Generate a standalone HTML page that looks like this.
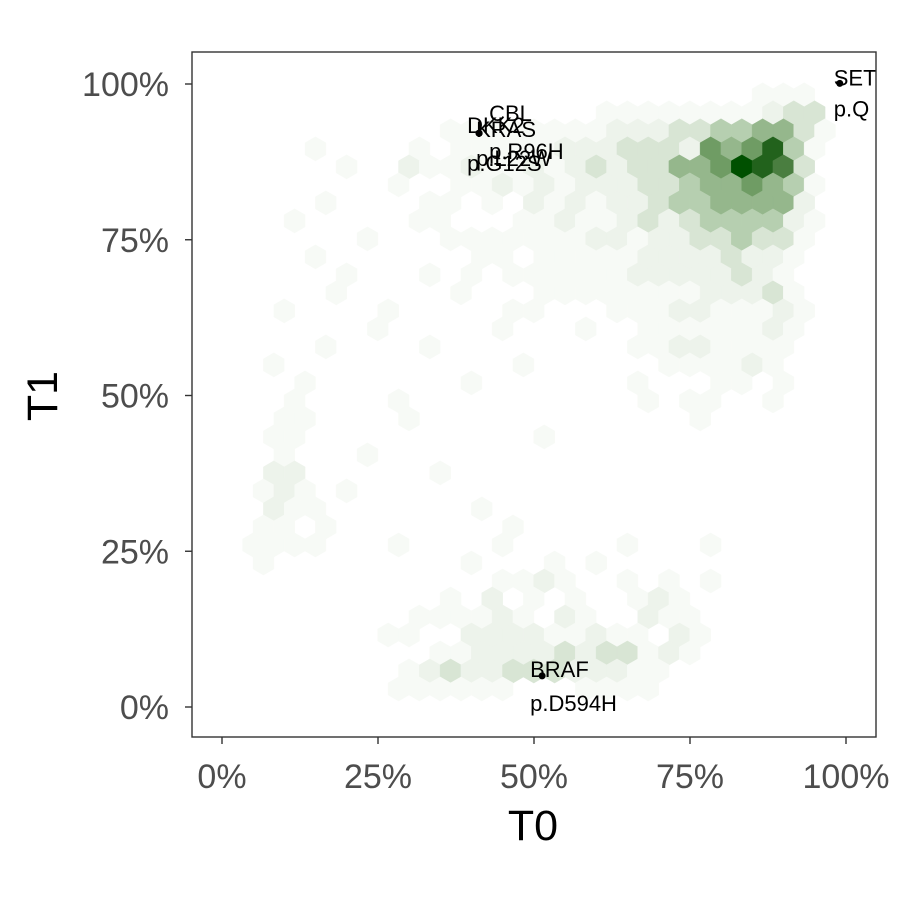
<!DOCTYPE html>
<html><head><meta charset="utf-8">
<style>
html,body{margin:0;padding:0;background:#fff;}
svg{display:block;font-family:"Liberation Sans",Arial,sans-serif;}
</style></head>
<body>
<svg id="chart" width="900" height="900" viewBox="0 0 900 900">
  <rect x="0" y="0" width="900" height="900" fill="#fff"/>
  <defs><clipPath id="panel-clip"><rect x="192" y="52" width="684" height="685"/></clipPath></defs>
  <g id="hexes" clip-path="url(#panel-clip)"></g>
  <g id="points" clip-path="url(#panel-clip)"></g>
  <rect x="192" y="52" width="684" height="685" fill="none" stroke="#333" stroke-width="1.4"/>
  <g id="xaxis"></g>
  <g id="yaxis"></g>
  <text x="533" y="840" font-size="43" text-anchor="middle" fill="#000">T0</text>
  <text x="0" y="0" font-size="43" text-anchor="middle" fill="#000" transform="translate(57,396) rotate(-90)">T1</text>
</svg>
<script>
// ---- data ----
var tickValues = [0, 25, 50, 75, 100];
var tickLabels = ["0%", "25%", "50%", "75%", "100%"];
// hex bin grid (data units, %)
var hexOriginX = 83.3, hexOriginY = 86.7, hexStepX = 3.333, hexStepY = 2.89;
var firstRowOffset = -4, firstColOffset = -24;
// hex counts (level 1-9) per row: [startCol, digits]
var hexRows = [
 [[25,"111"]],
 [[17,"11111111233"]],
 [[10,"1111111122233445531"]],
 [[3,"1"],[8,"1"],[10,"11111"],[15,"22"],[17,"23332"],[22,"656841"]],
 [[5,"1"],[8,"2"],[9,"11211212"],[17,"32335569873"]],
 [[7,"1"],[10,"112121"],[16,"222"],[19,"334556541"]],
 [[4,"1"],[9,"1101"],[14,"21212"],[19,"234455552"]],
 [[2,"1"],[8,"11"],[13,"11211"],[18,"2323444421"]],
 [[6,"1"],[10,"1111111"],[17,"22122334331"]],
 [[3,"1"],[11,"11011111"],[19,"22223221"]],
 [[5,"1"],[9,"101"],[13,"111111"],[19,"22222321"]],
 [[4,"1"],[10,"1"],[14,"11111"],[19,"11122231"]],
 [[2,"1"],[7,"1"],[13,"11"],[18,"1112211121"]],
 [[6,"1"],[12,"1"],[16,"1"],[19,"11111121"]],
 [[4,"1"],[9,"1"],[19,"11221111"]],
 [[1,"1"],[13,"1"],[20,"111121"]],
 [[3,"1"],[11,"1"],[19,"1"],[23,"11"],[26,"1"]],
 [[2,"1"],[7,"1"],[19,"1"],[21,"11"],[25,"1"]],
 [[2,"11"],[8,"1"],[22,"1"]],
 [[1,"11"],[14,"1"]],
 [[2,"1"],[6,"1"]],
 [[1,"22"],[9,"1"]],
 [[1,"121"],[5,"1"]],
 [[1,"211"],[11,"1"]],
 [[1,"11"],[4,"1"],[13,"1"]],
 [[0,"1111"],[7,"1"],[12,"1"],[18,"1"],[22,"1"]],
 [[1,"1"],[11,"1"],[15,"1"],[17,"1"]],
 [[12,"1121"],[18,"1"],[20,"1"],[22,"1"]],
 [[10,"1"],[12,"2"],[14,"1"],[16,"1"],[19,"121"]],
 [[8,"111121"],[15,"21"],[19,"211"]],
 [[7,"11"],[11,"222211211021"]],
 [[9,"1122223233121"]],
 [[8,"1232233322211"]],
 [[7,"111111"],[16,"1111"]]
];
var levelColors = ["#ffffff","#f7faf6","#edf3eb","#d8e5d4","#b6cfb0","#95b78c","#6f9c64","#4a7e40","#22621c","#005000"];
// labelled mutations
var labelGenes = ["KRAS","DKK2","CBL","SET","BRAF"];
var labelMuts = ["p.G12S","p.L22W","p.R96H","p.Q","p.D594H"];
var labelX = [41.2, 41.2, 41.2, 99.0, 51.3];
var labelY = [92.1, 92.1, 92.1, 100.1, 5.0];
var geneDx = [-3, -12, 10, -6, -12], geneDy = [4, 0, -12, 2, 1];
var mutDx = [-12, -3, 10, -6, -12], mutDy = [38, 33, 26, 33, 35];

// ---- scales ----
function sx(v){ return 222 + v * 6.24; }
function sy(v){ return 707 - v * 6.23; }
var NS = "http://www.w3.org/2000/svg";
function mk(tag, attrs, parent){
  var e = document.createElementNS(NS, tag);
  for (var k in attrs) e.setAttribute(k, attrs[k]);
  parent.appendChild(e); return e;
}
// ---- hexes ----
var hexG = document.getElementById("hexes");
var R = 12.1;
hexRows.forEach(function(row, ri){
  var j = ri + firstRowOffset;
  var odd = Math.abs(j) % 2 === 1;
  row.forEach(function(seg){
    var start = seg[0], digits = seg[1];
    for (var i = 0; i < digits.length; i++){
      var lv = +digits[i]; if (!lv) continue;
      var k = start + i + firstColOffset;
      var dxv = hexOriginX + (k + (odd ? 0.5 : 0)) * hexStepX;
      var dyv = hexOriginY - j * hexStepY;
      var cx = sx(dxv), cy = sy(dyv);
      var pts = [];
      for (var a = 0; a < 6; a++){
        var ang = Math.PI / 180 * (60 * a - 90);
        pts.push((cx + R * Math.cos(ang)).toFixed(1) + "," + (cy + R * Math.sin(ang)).toFixed(1));
      }
      var p = mk("polygon", {points: pts.join(" "), fill: levelColors[lv], stroke: levelColors[lv], "stroke-width": 0.4}, hexG);
      
      
    }
  });
});
// ---- points & labels ----
var ptG = document.getElementById("points");
labelGenes.forEach(function(g, i){
  var cx = sx(labelX[i]), cy = sy(labelY[i]);
  var c = mk("circle", {cx: cx, cy: cy, r: 3.5, fill: "#000"}, ptG);
  
  
  var t1 = mk("text", {x: cx + geneDx[i], y: cy + geneDy[i], "font-size": 22, fill: "#000"}, ptG);
  t1.textContent = g;
  
  
  var t2 = mk("text", {x: cx + mutDx[i], y: cy + mutDy[i], "font-size": 22, fill: "#000"}, ptG);
  t2.textContent = labelMuts[i];
  
  
});
// ---- axes ----
var xa = document.getElementById("xaxis"), ya = document.getElementById("yaxis");
tickValues.forEach(function(v, i){
  var x = sx(v);
  var l = mk("line", {x1: x, x2: x, y1: 737, y2: 744, stroke: "#333", "stroke-width": 1.4}, xa);
  
  
  var t = mk("text", {x: x, y: 788, "font-size": 34, "text-anchor": "middle", fill: "#4d4d4d"}, xa);
  t.textContent = tickLabels[i];
  
  
  var y = sy(v);
  var l2 = mk("line", {x1: 185, x2: 192, y1: y, y2: y, stroke: "#333", "stroke-width": 1.4}, ya);
  
  
  var t2 = mk("text", {x: 169, y: y + 12, "font-size": 34, "text-anchor": "end", fill: "#4d4d4d"}, ya);
  t2.textContent = tickLabels[i];
  
  
});
</script>
</body></html>
